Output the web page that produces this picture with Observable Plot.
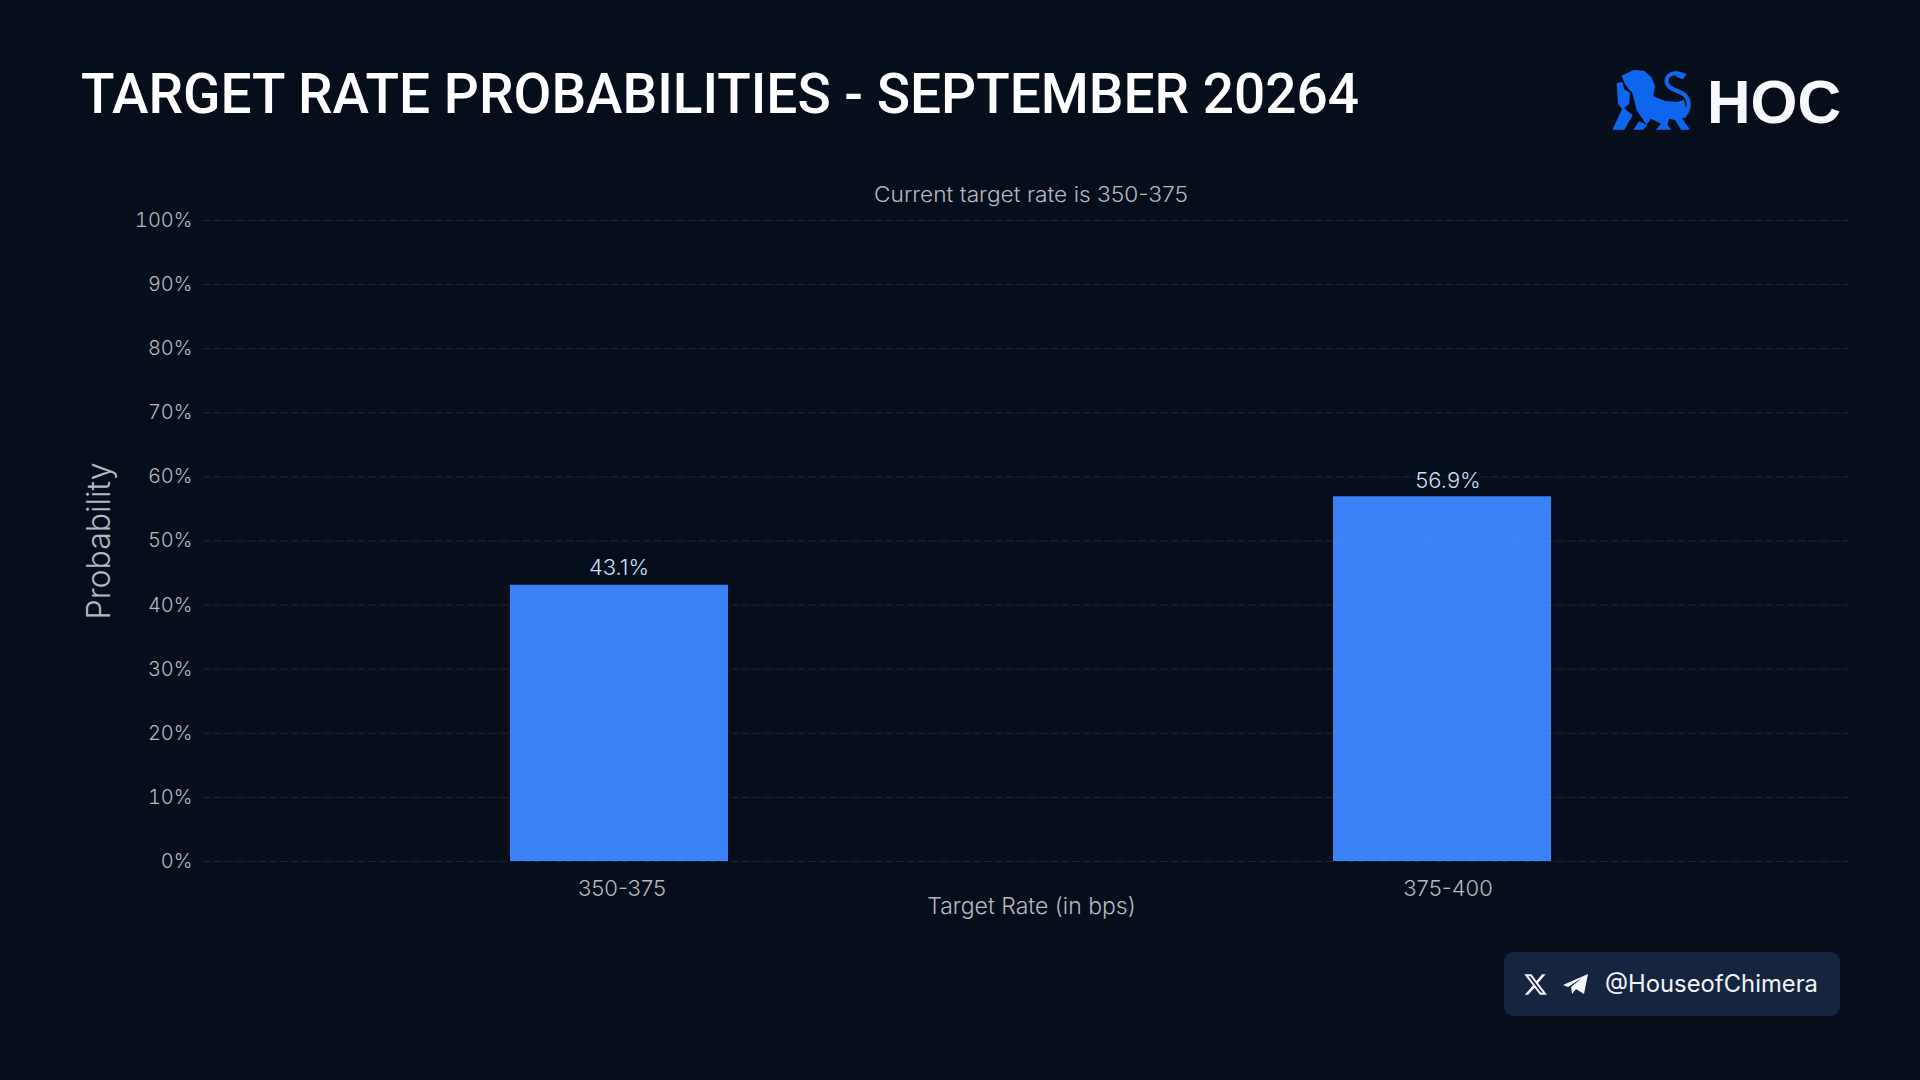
<!DOCTYPE html>
<html>
<head>
<meta charset="utf-8">
<script src="https://cdn.jsdelivr.net/npm/d3@7"></script>
<script src="https://cdn.jsdelivr.net/npm/@observablehq/plot@0.6"></script>
<style>
  html, body { margin: 0; padding: 0; background: #070e1b; }
  #page { position: relative; width: 1920px; height: 1080px; overflow: hidden; background: #070e1b; }
  #chart, #overlay { position: absolute; left: 0; top: 0; }
  #chart svg { display: block; }
</style>
</head>
<body>
<div id="page">
  <div id="chart"></div>
  <svg id="overlay" width="1920" height="1080" viewBox="0 0 1920 1080" font-family="Inter">
    <text x="81" y="113" font-size="56" font-weight="500" fill="#ffffff" textLength="1278" lengthAdjust="spacingAndGlyphs" font-family="Roboto">TARGET RATE PROBABILITIES - SEPTEMBER 20264</text>
    <text x="874" y="202" font-size="21" font-weight="300" fill="#b4b8c0" textLength="314" lengthAdjust="spacingAndGlyphs">Current target rate is 350-375</text>

    <g transform="translate(1604,60) scale(0.35,0.3333)" fill="#0f66ee">
      <path d="M50 47 L84 30 L114 32 L134 50 L146 78 L141 108 L172 122 L208 126 L228 120 L236 150 L224 176 L246 209 L220 209 L204 181 L186 176 L181 194 L193 209 L148 209 L163 191 L134 176 L122 194 L94 152 L80 96 L72 90 L60 72 Z"/>
      <path d="M36 70 L52 66 L58 88 L74 98 L72 132 L52 148 L40 132 Z"/>
      <path d="M54 142 L82 166 L58 209 L24 209 Z"/>
      <path d="M100 184 L124 196 L112 209 L84 209 Z"/>
      <path d="M222 44 C190 30 166 56 186 80 C200 96 240 92 242 132 C243 150 234 160 226 172" fill="none" stroke="#0f66ee" stroke-width="12"/>
      <path d="M204 32 L236 42 L226 58 L206 50 Z"/>
    </g>
    <text x="1707" y="123" font-size="62" font-weight="700" fill="#f7f8fb" font-family="Liberation Sans" textLength="134" lengthAdjust="spacingAndGlyphs">HOC</text>

    <rect x="1504" y="952" width="336" height="64" rx="9" fill="#16243f"/>
    <path transform="translate(1523,972) scale(1.05)" fill="#f4f6fa" d="M18.244 2.25h3.308l-7.227 8.26 8.502 11.24H16.17l-5.214-6.817L4.99 21.75H1.68l7.73-8.835L1.254 2.25H8.08l4.713 6.231zm-1.161 17.52h1.833L7.084 4.126H5.117z"/>
    <path fill="#f4f6fa" d="M1563 985 L1588 974 L1584 994 L1576 989 L1572 994 L1571 987 L1582 978 L1568 987 Z"/>
    <text x="1605" y="992" font-size="24" font-weight="400" fill="#f1f3f8" textLength="213" lengthAdjust="spacingAndGlyphs">@HouseofChimera</text>
  </svg>
</div>
<script>
const rates = ["350-375", "375-400"];
const probabilities = [43.1, 56.9];
const yTicks = [0, 10, 20, 30, 40, 50, 60, 70, 80, 90, 100];
const xLabel = "Target Rate (in bps)";
const yLabel = "Probability";

const rows = rates.map((rate, i) => ({rate, probability: probabilities[i]}));
const labelText = d => d.probability.toFixed(1) + "%";
const tickColor = "#b4b8c0";

const plot = Plot.plot({
  width: 1920,
  height: 1080,
  marginLeft: 203,
  marginRight: 71,
  marginTop: 220,
  marginBottom: 219,
  style: {background: "transparent", fontFamily: "Inter", fontWeight: 300},
  x: {type: "band", domain: rates, range: [207.5, 1853.5], paddingInner: 0.7354, paddingOuter: 0.3665, label: null},
  y: {domain: [0, 100], label: null},
  marks: [
    Plot.barY(rows, {x: "rate", y: "probability", fill: "#3b82f6"}),
    Plot.ruleY(yTicks, {stroke: "#94a3b8", strokeOpacity: 0.16, strokeDasharray: "8 3"}),
    Plot.text(rows.slice(0, 1), {x: "rate", y: "probability", text: labelText, dx: -0.5, dy: -17, fill: "#c9def9", fontSize: 22, stroke: "#070e1b", strokeWidth: 4}),
    Plot.text(rows.slice(1), {x: "rate", y: "probability", text: labelText, dx: 5.5, dy: -16, fill: "#c9def9", fontSize: 22, stroke: "#070e1b", strokeWidth: 4}),
    Plot.axisY({ticks: yTicks, tickSize: 0, tickPadding: 11, tickFormat: d => d + "%", label: null, fontSize: 20, color: tickColor}),
    Plot.axisX({ticks: rates.slice(0, 1), tickSize: 0, tickPadding: 19, dx: 2.5, label: null, fontSize: 22, color: tickColor}),
    Plot.axisX({ticks: rates.slice(1), tickSize: 0, tickPadding: 19, dx: 5.5, label: null, fontSize: 22, color: tickColor}),
    Plot.text([xLabel], {frameAnchor: "bottom", dx: 5, dy: 52, fontSize: 23, fill: tickColor}),
    Plot.text([yLabel], {frameAnchor: "left", textAnchor: "middle", rotate: -90, dx: -104, fontSize: 32, fill: tickColor})
  ]
});
document.getElementById("chart").appendChild(plot);
</script>
</body>
</html>
